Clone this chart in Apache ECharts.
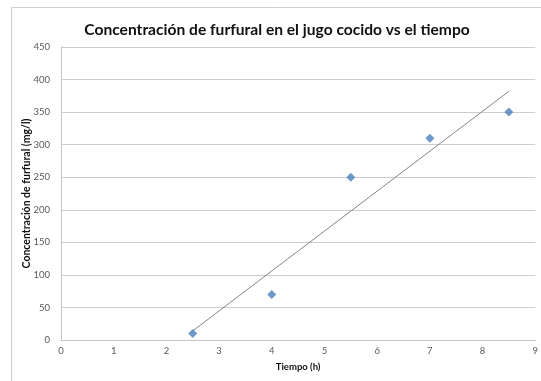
<!DOCTYPE html>
<html>
<head>
<meta charset="utf-8">
<script src="https://cdn.jsdelivr.net/npm/echarts@6/dist/echarts.min.js"></script>
<style>html,body{margin:0;padding:0;background:#fff;}#c{width:541px;height:381px;}</style>
</head>
<body>
<div id="c"></div>
<script>
var timeH = [2.5, 4, 5.5, 7, 8.5];
var furfural = [10, 70, 250, 310, 350];
var xTicks = [0, 1, 2, 3, 4, 5, 6, 7, 8, 9];
var yTicks = [0, 50, 100, 150, 200, 250, 300, 350, 400, 450];
var titleText = 'Concentración de furfural en el jugo cocido vs el tiempo';
var xName = 'Tiempo (h)';
var yName = 'Concentración de furfural (mg/l)';

// linear trendline (least squares) from the data
var n = timeH.length, mx = 0, my = 0;
for (var i = 0; i < n; i++) { mx += timeH[i]; my += furfural[i]; }
mx /= n; my /= n;
var sxy = 0, sxx = 0;
for (var i = 0; i < n; i++) { sxy += (timeH[i] - mx) * (furfural[i] - my); sxx += (timeH[i] - mx) * (timeH[i] - mx); }
var slope = sxy / sxx, icpt = my - slope * mx;
var xa = Math.min.apply(null, timeH), xb = Math.max.apply(null, timeH);
var trend = [[xa, icpt + slope * xa], [xb, icpt + slope * xb]];

var chart = echarts.init(document.getElementById('c'), null, {renderer: 'canvas'});
var labelFont = {color: '#595959', fontSize: 9.5, fontFamily: 'Lato'};
chart.setOption({
  animation: false,
  backgroundColor: '#ffffff',
  graphic: [{type: 'rect', shape: {x: 11.5, y: 7.5, width: 700, height: 500}, style: {fill: 'none', stroke: '#cfcfcf', lineWidth: 1}, z: -1}],
  title: {
    text: titleText, left: 272, top: 17, textAlign: 'center',
    textStyle: {fontFamily: 'Lato', fontSize: 15.6, fontWeight: 'bold', color: '#111111'}
  },
  grid: {left: 61, top: 47, right: 0, bottom: 41, containLabel: false},
  xAxis: {
    type: 'value', min: xTicks[0], max: xTicks[xTicks.length - 1], interval: 1,
    name: xName, nameLocation: 'middle', nameGap: 22, nameMoveOverlap: false,
    nameTextStyle: {fontFamily: 'Lato', fontSize: 9.5, fontWeight: 'bold', color: '#111'},
    axisLine: {lineStyle: {color: '#c4c4c4'}},
    axisTick: {show: false},
    splitLine: {show: false},
    axisLabel: Object.assign({margin: 6}, labelFont)
  },
  yAxis: {
    type: 'value', min: yTicks[0], max: yTicks[yTicks.length - 1], interval: 50,
    name: yName, nameLocation: 'middle', nameGap: 29, nameMoveOverlap: false,
    nameTextStyle: {fontFamily: 'Lato', fontSize: 10.5, fontWeight: 'bold', color: '#111'},
    axisLine: {show: true, lineStyle: {color: '#c4c4c4'}},
    axisTick: {show: false},
    splitLine: {lineStyle: {color: '#cdcdcd'}},
    axisLabel: Object.assign({margin: 11}, labelFont)
  },
  series: [
    {type: 'line', data: trend, symbol: 'none', lineStyle: {color: '#858585', width: 1}, z: 2},
    {type: 'scatter', data: timeH.map(function (x, i) { return [x, furfural[i]]; }),
     symbol: 'diamond', symbolSize: [9, 9], itemStyle: {color: '#4a7ebb'}, z: 3}
  ]
});
</script>
</body>
</html>
